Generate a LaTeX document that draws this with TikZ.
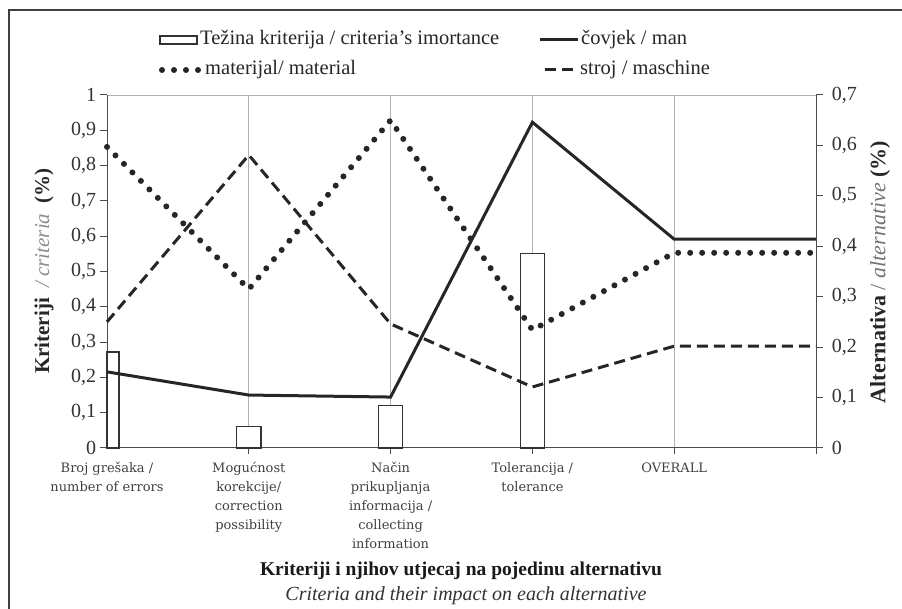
\documentclass[tikz,border=0pt]{standalone}
\usepackage{fontspec}
\setmainfont{Liberation Serif}
\newfontfamily\catfont{DejaVu Serif}
\usetikzlibrary{calc}

\begin{document}
\begin{tikzpicture}[x=1pt, y=1pt]
    % Styles
    \tikzstyle{frame} = [draw=black!75, line width=2pt]
    \tikzstyle{gridline} = [draw=black!30, line width=0.8pt]
    \tikzstyle{axis} = [draw=black!70, line width=1pt]
    \tikzstyle{bar} = [draw=black!80, fill=white, line width=1.3pt]
    \tikzstyle{man} = [draw=black!85, line width=3pt]
    \tikzstyle{material} = [draw=black!85, line width=6pt, line cap=round, dash pattern=on 0pt off 12pt]
    \tikzstyle{machine} = [draw=black!85, line width=3pt, dash pattern=on 11pt off 6pt]
    \tikzstyle{ticklabel} = [font=\fontsize{20}{20}\selectfont, text=black!80]
    \tikzstyle{cat} = [font=\catfont\fontsize{13}{19}\selectfont, text=black!75, align=center, anchor=north]
    \tikzstyle{legend} = [font=\fontsize{20.5}{20.5}\selectfont, text=black!85, anchor=west, inner sep=1pt]

    \useasboundingbox (0,0) rectangle (902,609);

    % Outer frame
    \draw [frame] (9,0) -- (9,599) -- (902,599);

    % Plot area
    \coordinate (O) at (107,161);
    \foreach \i in {1,...,4}
        \draw [gridline] ($(O)+(\i*141.8,0)$) -- ++(0,353);
    \draw [gridline] (107,514) -- (816,514);
    \draw [axis] (107,514) -- (O) -- (816,161) -- (816,514);

    % Left axis (criteria)
    \foreach \i/\t in {0/0, 1/0{,}1, 2/0{,}2, 3/0{,}3, 4/0{,}4, 5/0{,}5, 6/0{,}6, 7/0{,}7, 8/0{,}8, 9/0{,}9, 10/1}
        \draw [axis] (107,{161+\i*35.3}) -- ++(-7,0) node [ticklabel, left] (yl\i) {\t};
    % Right axis (alternative)
    \foreach \i/\t in {0/0, 1/0{,}1, 2/0{,}2, 3/0{,}3, 4/0{,}4, 5/0{,}5, 6/0{,}6, 7/0{,}7}
        \draw [axis] (816,{161+\i*50.43}) -- ++(7,0) node [ticklabel, right, xshift=5pt] (yr\i) {\t};
    \foreach \i in {1,...,5}
        \draw [axis] ($(O)+(\i*141.8,0)$) -- ++(0,-6);

    % Bars: criteria's importance
    \begin{scope}[shift={(O)}, x=141.8pt, y=353pt]
        \draw [bar] (0,0) rectangle (0.085,0.272);
        \draw [bar] (0.915,0) rectangle (1.085,0.06);
        \draw [bar] (1.915,0) rectangle (2.085,0.12);
        \draw [bar] (2.915,0) rectangle (3.085,0.55);
    \end{scope}

    % Lines: alternatives
    \begin{scope}[shift={(O)}, x=141.8pt, y=504.3pt]
        \draw [machine] (0,0.250) -- (1,0.581) -- (2,0.246) -- (3,0.121) -- (4,0.202) -- (5,0.202);
        \draw [material] (0,0.597) -- (1,0.315) -- (2,0.650) -- (3,0.234) -- (4,0.387) -- (5,0.387);
        \draw [man] (0,0.151) -- (1,0.105) -- (2,0.101) -- (3,0.646) -- (4,0.414) -- (5,0.414);
    \end{scope}

    % Category labels
    \node [cat] (c1) at (107,150) {Broj grešaka /\\number of errors};
    \node [cat] (c2) at (248.8,150) {Mogućnost\\korekcije/\\correction\\possibility};
    \node [cat] (c3) at (390.6,150) {Način\\prikupljanja\\informacija /\\collecting\\information};
    \node [cat] (c4) at (532.4,150) {Tolerancija /\\tolerance};
    \node [cat] (c5) at (674.2,150) {OVERALL};

    % Axis titles
    \node [rotate=90, font=\fontsize{21}{21}\selectfont, text=black!85] (ytitle) at (44,338)
        {\textbf{Kriteriji} ~\textcolor{black!45}{\textit{/ criteria}} ~\textbf{(\%)}};
    \node [rotate=90, font=\fontsize{22}{22}\selectfont, text=black!85] (y2title) at (880,337)
        {\textbf{Alternativa} \textcolor{black!55}{/ \textit{alternative}} \textbf{(\%)}};
    \node [font=\bfseries\fontsize{19.5}{19.5}\selectfont, text=black!90] (xtitle) at (461,38)
        {Kriteriji i njihov utjecaj na pojedinu alternativu};
    \node [font=\itshape\fontsize{20}{20}\selectfont, text=black!80] (xsub) at (466,13)
        {Criteria and their impact on each alternative};

    % Legend
    \draw [bar] (160,565) rectangle (197,573);
    \node [legend] (lg1) at (199,569) {Težina kriterija / criteria's imortance};
    \draw [man] (540,569) -- (578,569);
    \node [legend] (lg2) at (580,569) {čovjek / man};
    \draw [material] (162,539) -- (199,539);
    \node [legend] (lg3) at (204,539) {materijal/ material};
    \draw [machine] (545,539) -- (578,539);
    \node [legend] (lg4) at (579,539) {stroj / maschine};
\end{tikzpicture}
\end{document}
